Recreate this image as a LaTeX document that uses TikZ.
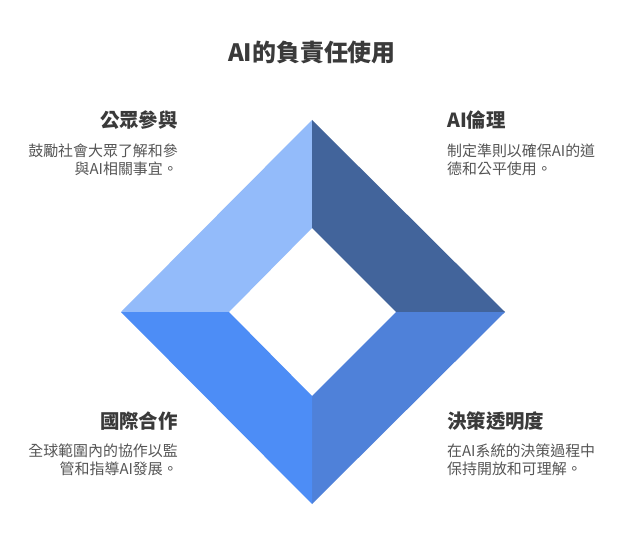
\documentclass[tikz,border=0pt]{standalone}
\usepackage{fontspec}
\newfontfamily\cjk{Noto Sans CJK TC}
\definecolor{cLight}{HTML}{93BBFA}
\definecolor{cDark}{HTML}{42649B}
\definecolor{cBR}{HTML}{4F81D9}
\definecolor{cBL}{HTML}{4D8DF6}
\definecolor{cHead}{HTML}{3A3A3A}
\definecolor{cBody}{HTML}{555555}
\tikzset{
  title/.style={font=\cjk\bfseries\fontsize{24}{28}\selectfont, text=cHead, inner sep=0},
  head/.style={font=\cjk\bfseries\fontsize{19.5}{23}\selectfont, text=cHead, inner sep=0},
  body/.style={font=\cjk\fontsize{15}{18}\selectfont, text=cBody, inner sep=0},
}
\begin{document}
\begin{tikzpicture}[x=1bp,y=-1bp]
\fill[white] (0,0) rectangle (637,553);
\useasboundingbox (0,0) rectangle (637,553);
% outer and inner diamond points
\coordinate (OT) at (312,120);
\coordinate (OL) at (121,312);
\coordinate (OR) at (505,312);
\coordinate (OB) at (312,504);
\coordinate (IT) at (312,228);
\coordinate (IL) at (229,312);
\coordinate (IR) at (396,312);
\coordinate (IB) at (312,396);
\fill[cLight] (OT) -- (OL) -- (IL) -- (IT) -- cycle;
\fill[cDark] (OT) -- (IT) -- (IR) -- (OR) -- cycle;
\fill[cBR] (OR) -- (IR) -- (IB) -- (OB) -- cycle;
\fill[cBL] (OB) -- (IB) -- (IL) -- (OL) -- cycle;
% title
\node[title, anchor=base] (t) at (312,62) {AI的負責任使用};
% headings
\node[head, anchor=base east] (h1) at (178,128) {公眾參與};
\node[head, anchor=base west] (h2) at (447,128) {AI倫理};
\node[head, anchor=base east] (h3) at (178,428) {國際合作};
\node[head, anchor=base west] (h4) at (447,428) {決策透明度};
% bodies
\node[body, anchor=north east, align=right] (b1) at (178,144) {鼓勵社會大眾了解和參\\與AI相關事宜。};
\node[body, anchor=north west, align=left] (b2) at (447,144) {制定準則以確保AI的道\\德和公平使用。};
\node[body, anchor=north east, align=right] (b3) at (178,444) {全球範圍內的協作以監\\管和指導AI發展。};
\node[body, anchor=north west, align=left] (b4) at (447,444) {在AI系統的決策過程中\\保持開放和可理解。};
\end{tikzpicture}
\end{document}
